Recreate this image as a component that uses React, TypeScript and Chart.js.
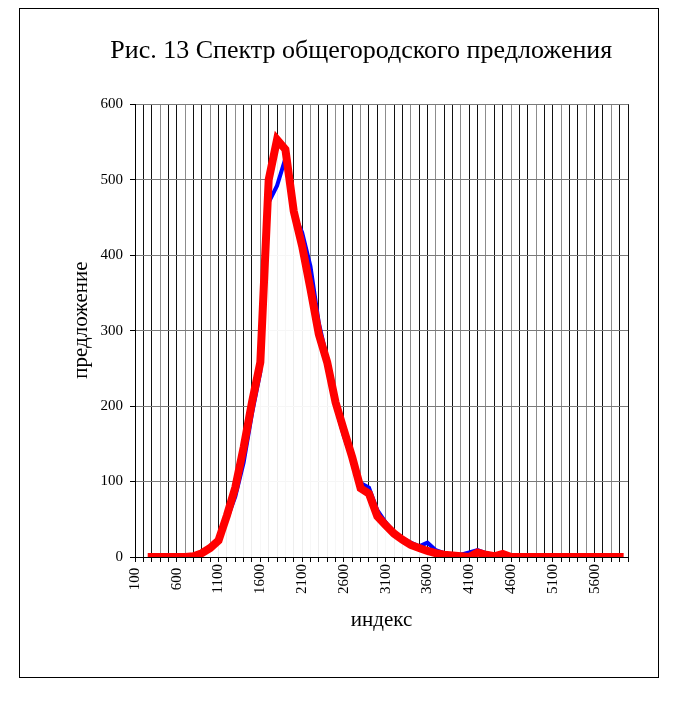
import { useEffect, useRef } from "react";
import { Chart, registerables } from "chart.js";

Chart.register(...registerables);

const categories = [
  "100", "200", "300", "400", "500", "600", "700", "800", "900", "1000",
  "1100", "1200", "1300", "1400", "1500", "1600", "1700", "1800", "1900", "2000",
  "2100", "2200", "2300", "2400", "2500", "2600", "2700", "2800", "2900", "3000",
  "3100", "3200", "3300", "3400", "3500", "3600", "3700", "3800", "3900", "4000",
  "4100", "4200", "4300", "4400", "4500", "4600", "4700", "4800", "4900", "5000",
  "5100", "5200", "5300", "5400", "5500", "5600", "5700", "5800", "5900", "6000",
];

const shownTickLabels = [
  "100", "600", "1100", "1600", "2100", "2600", "3100", "3600", "4100", "4600", "5100", "5600",
];

// blue series
const supplyBlue = [
  null, null, 0, 0, 0, 0, 0, 0, 4, 11,
  25, 50, 80, 125, 190, 245, 470, 492, 528, 455,
  430, 385, 310, 262, 200, 160, 128, 98, 92, 62,
  46, 33, 25, 19, 14, 19, 9, 5, 3, 3,
  6, 9, 5, 3, 5, 0, 0, 0, 0, 0,
  0, 0, 0, 0, 0, 0, 0, 0, 0, null,
];

// red series
const supplyRed = [
  null, null, 0, 0, 0, 0, 0, 1, 5, 12,
  22, 55, 92, 145, 205, 258, 500, 553, 540, 458,
  412, 355, 295, 258, 205, 168, 132, 91, 84, 54,
  42, 31, 23, 16, 12, 8, 5, 3, 2, 1,
  0, 6, 3, 1, 4, 0, 0, 0, 0, 0,
  0, 0, 0, 0, 0, 0, 0, 0, 0, null,
];

const yMin = 0;
const yMax = 600;
const yStep = 100;

const chartTitle = "Рис. 13 Спектр общегородского предложения";
const yTitle = "предложение";
const xTitle = "индекс";

const FONT = "'Liberation Serif', 'Times New Roman', serif";

export default function App() {
  const ref = useRef<HTMLCanvasElement>(null);

  useEffect(() => {
    if (!ref.current) return;
    const chart = new Chart(ref.current, {
      type: "line",
      data: {
        labels: categories,
        datasets: [
          {
            label: "red",
            data: supplyRed,
            borderColor: "#ff0000",
            borderWidth: 8,
            pointRadius: 0,
            tension: 0,
            fill: "origin",
            backgroundColor: "rgba(255,255,255,0.93)",
            borderCapStyle: "square",
            borderJoinStyle: "miter",
          },
          {
            label: "blue",
            data: supplyBlue,
            borderColor: "#0000ff",
            borderWidth: 4,
            pointRadius: 0,
            tension: 0,
            fill: false,
            borderCapStyle: "square",
            borderJoinStyle: "miter",
          },
        ],
      },
      options: {
        animation: false,
        responsive: false,
        maintainAspectRatio: false,
        events: [],
        layout: { padding: { left: 42, right: 30, top: 0, bottom: 0 } },
        plugins: {
          legend: { display: false },
          tooltip: { enabled: false },
          filler: { drawTime: "beforeDatasetsDraw" },
          title: {
            display: true,
            text: "     " + chartTitle,
            color: "#000",
            font: { family: FONT, size: 26, weight: "normal" },
            padding: { top: 27, bottom: 37 },
          },
        },
        scales: {
          x: {
            type: "category",
            offset: false,
            afterFit: (s: any) => {
              s.height = 120;
            },
            grid: {
              color: (ctx: any) => (ctx.index % 3 === 0 ? "#8c8c8c" : "#111"),
              lineWidth: 1,
              drawTicks: true,
              tickLength: 5,
              tickColor: "#000",
            },
            border: { color: "#000", width: 1 },
            ticks: {
              autoSkip: false,
              minRotation: 90,
              maxRotation: 90,
              padding: 2,
              color: "#000",
              font: { family: FONT, size: 15 },
              callback: (_v: any, index: number) => {
                const lab = categories[index];
                if (!shownTickLabels.includes(lab)) return "";
                return lab.length === 3 ? lab + " " : lab;
              },
            },
            title: {
              display: true,
              text: xTitle,
              color: "#000",
              font: { family: FONT, size: 21, weight: "normal" },
              padding: { top: 0, bottom: 44 },
            },
          },
          y: {
            min: yMin,
            max: yMax,
            afterFit: (s: any) => {
              s.width = 73;
            },
            grid: {
              color: "#7a7a7a",
              lineWidth: 1,
              drawTicks: true,
              tickLength: 5,
              tickColor: "#000",
            },
            border: { color: "#000", width: 1 },
            ticks: {
              stepSize: yStep,
              padding: 7,
              color: "#000",
              font: { family: FONT, size: 15 },
            },
            title: {
              display: true,
              text: "    " + yTitle,
              color: "#000",
              font: { family: FONT, size: 21, weight: "normal" },
              padding: { top: 7, bottom: 0 },
            },
          },
        },
      },
    });
    return () => chart.destroy();
  }, []);

  return (
    <div
      style={{
        position: "absolute",
        left: 19,
        top: 8,
        width: 640,
        height: 670,
        boxSizing: "border-box",
        border: "1px solid #000",
        background: "#fff",
      }}
    >
      <canvas
        ref={ref}
        width={638}
        height={668}
        style={{ display: "block", width: 638, height: 668 }}
      />
    </div>
  );
}
